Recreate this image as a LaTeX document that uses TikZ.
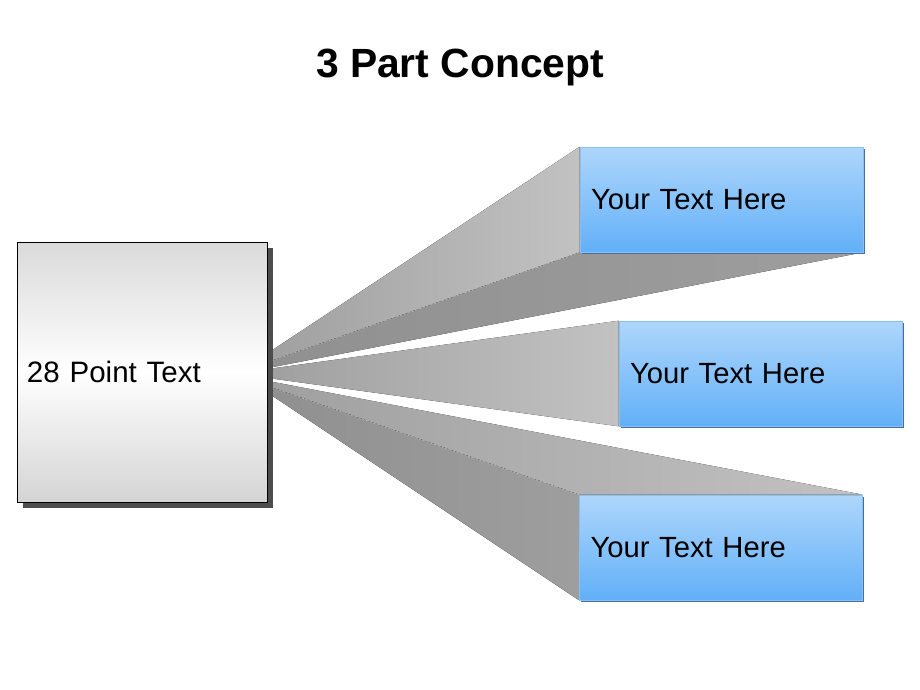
\documentclass[tikz,border=0pt]{standalone}
\usepackage{fontspec}
\setmainfont{Liberation Sans}
\usetikzlibrary{shadows}
\pgfdeclarelayer{background}
\pgfsetlayers{background,main}
\definecolor{lightR}{HTML}{C2C2C2}
\definecolor{lightL}{HTML}{A0A0A0}
\definecolor{darkR}{HTML}{9E9E9E}
\definecolor{darkL}{HTML}{909090}
\definecolor{blueTop}{HTML}{AED6FB}
\definecolor{blueBot}{HTML}{62B0F8}
\definecolor{blueEdge}{HTML}{8DBFF0}
\definecolor{blueShadow}{HTML}{44709E}
\definecolor{srcShadow}{HTML}{4D4D4D}
\definecolor{grayTop}{HTML}{DADADA}
\definecolor{grayBot}{HTML}{D4D4D4}
\tikzset{
  srcbox/.style={draw=black, line width=0.8pt, top color=grayTop, bottom color=grayBot, middle color=white,
    minimum width=250pt, minimum height=260pt, inner xsep=10pt, text width=230pt, align=left,
    font=\fontsize{29.5}{34}\selectfont,
    general shadow={shadow xshift=6pt, shadow yshift=-6pt, fill=srcShadow}},
  bluebox/.style={draw=blueEdge, line width=0.6pt, top color=blueTop, bottom color=blueBot,
    minimum width=283pt, minimum height=105pt, inner xsep=11pt, text width=261pt, align=left,
    font=\fontsize{29.2}{34}\selectfont,
    general shadow={shadow xshift=1.5pt, shadow yshift=-1.5pt, fill=blueShadow}},
  lightface/.style={left color=lightL, right color=lightR},
  darkface/.style={left color=darkL, right color=darkR},
  seam/.style={draw=white, opacity=0.55, line width=0.5pt, dash pattern=on 2pt off 2pt},
  titletext/.style={font=\bfseries\fontsize{40.8}{48}\selectfont, anchor=base}
}
\begin{document}
\begin{tikzpicture}[x=1pt,y=-1pt]
\useasboundingbox (0,0) rectangle (920,690);
\node[titletext] (title) at (460,78) {3 Part Concept};
\node[srcbox] (src) at (142,372) {28 Point Text};
\node[bluebox] (b1) at (721.5,199.5) {Your Text Here};
\node[bluebox] (b2) at (760.5,373.5) {Your Text Here};
\node[bluebox] (b3) at (721,547.5) {Your Text Here};
\coordinate (t1) at (268,353);
\coordinate (t2) at (268,362);
\coordinate (t3) at (268,368);
\coordinate (m1) at (268,369);
\coordinate (m2) at (268,378);
\coordinate (u1) at (268,381);
\coordinate (u2) at (268,386);
\coordinate (u3) at (268,393);
\begin{pgfonlayer}{background}
\fill[lightface] (t1) -- (b1.north west) -- (b1.south west) -- (t2) -- cycle;
\fill[darkface] (t2) -- (b1.south west) -- (b1.south east) -- (t3) -- cycle;
\draw[seam] (t2) -- (b1.south west);
\fill[lightface] (m1) -- (b2.north west) -- (b2.south west) -- (m2) -- cycle;
\fill[lightface] (u1) -- (b3.north east) -- (b3.north west) -- (u2) -- cycle;
\fill[darkface] (u2) -- (b3.north west) -- (b3.south west) -- (u3) -- cycle;
\draw[seam] (u2) -- (b3.north west);
\end{pgfonlayer}
\end{tikzpicture}
\end{document}
